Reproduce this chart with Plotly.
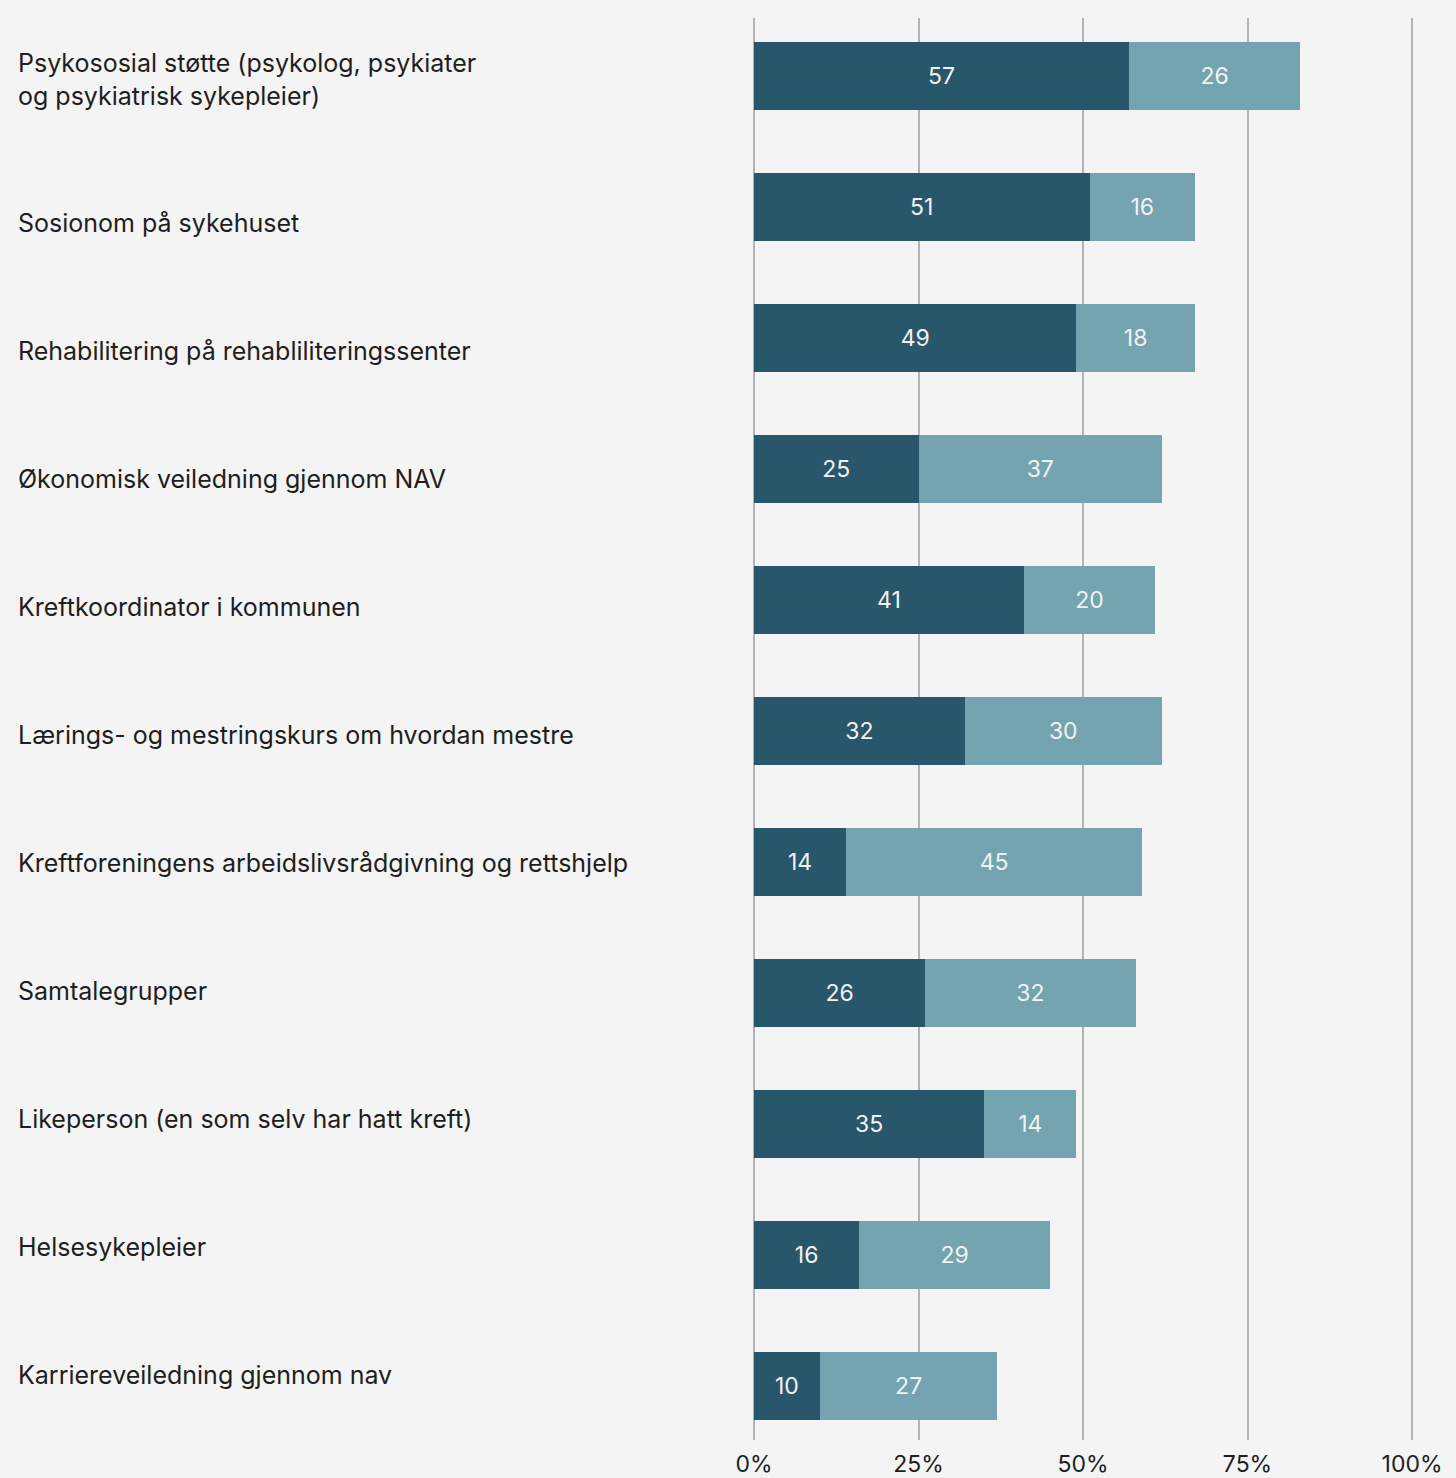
import plotly.graph_objects as go

# Tjenester (ovenfra og ned) og andeler i prosent
categories = [
    "Psykososial støtte (psykolog, psykiater<br>og psykiatrisk sykepleier)",
    "Sosionom på sykehuset",
    "Rehabilitering på rehabliliteringssenter",
    "Økonomisk veiledning gjennom NAV",
    "Kreftkoordinator i kommunen",
    "Lærings- og mestringskurs om hvordan mestre",
    "Kreftforeningens arbeidslivsrådgivning og rettshjelp",
    "Samtalegrupper",
    "Likeperson (en som selv har hatt kreft)",
    "Helsesykepleier",
    "Karriereveiledning gjennom nav",
]
series_dark = [57, 51, 49, 25, 41, 32, 14, 26, 35, 16, 10]
series_light = [26, 16, 18, 37, 20, 30, 45, 32, 14, 29, 27]
tick_values = [0, 25, 50, 75, 100]
tick_labels = ["0%", "25%", "50%", "75%", "100%"]

DARK = "#28566b"
LIGHT = "#73a4b0"
BG = "#f4f4f4"
GRID = "#b3b3b6"
TEXT = "#1e1e1e"
FONT = "Inter, Lato, sans-serif"

W, H = 1456, 1478
ML, MR, MT, MB = 754, 42, 18, 38
X_MAX = 100.3  # a little headroom so the 100 % gridline is drawn

rows = list(range(len(categories)))

fig = go.Figure()
for vals, color, name in [(series_dark, DARK, "Serie 1"), (series_light, LIGHT, "Serie 2")]:
    fig.add_trace(go.Bar(
        y=rows,
        x=vals,
        orientation="h",
        name=name,
        width=0.52,
        marker=dict(color=color, line=dict(width=0)),
        text=[str(v) for v in vals],
        textposition="inside",
        insidetextanchor="middle",
        textangle=0,
        constraintext="none",
        textfont=dict(family=FONT, size=23, color="#f2f2f2"),
        hovertemplate="%{x}%<extra></extra>",
    ))

# Category labels, left aligned at the page edge
plot_w = W - ML - MR
for i, label in enumerate(categories):
    two_lines = "<br>" in label
    fig.add_annotation(
        x=(16 - ML) / plot_w, xref="paper",
        y=i, yref="y",
        text=label,
        showarrow=False,
        xanchor="left",
        yanchor="middle",
        align="left",
        yshift=-(19 - 3 * i) + (16 if two_lines else 0),
        font=dict(family=FONT, size=25, color=TEXT),
    )

fig.update_layout(
    width=W, height=H,
    margin=dict(l=ML, r=MR, t=MT, b=MB, autoexpand=False),
    paper_bgcolor=BG,
    plot_bgcolor=BG,
    barmode="stack",
    showlegend=False,
    xaxis=dict(
        range=[0, X_MAX],
        tickvals=tick_values,
        ticktext=tick_labels,
        showgrid=True,
        gridcolor=GRID,
        gridwidth=2,
        zeroline=True,
        zerolinecolor=GRID,
        zerolinewidth=2,
        showline=False,
        ticks="",
        ticklabelstandoff=8,
        automargin=False,
        tickfont=dict(family=FONT, size=23, color=TEXT),
        fixedrange=True,
    ),
    yaxis=dict(
        range=[10.41, -0.443],
        showticklabels=False,
        showgrid=False,
        zeroline=False,
        automargin=False,
        fixedrange=True,
    ),
)

fig.write_html("out.html")
